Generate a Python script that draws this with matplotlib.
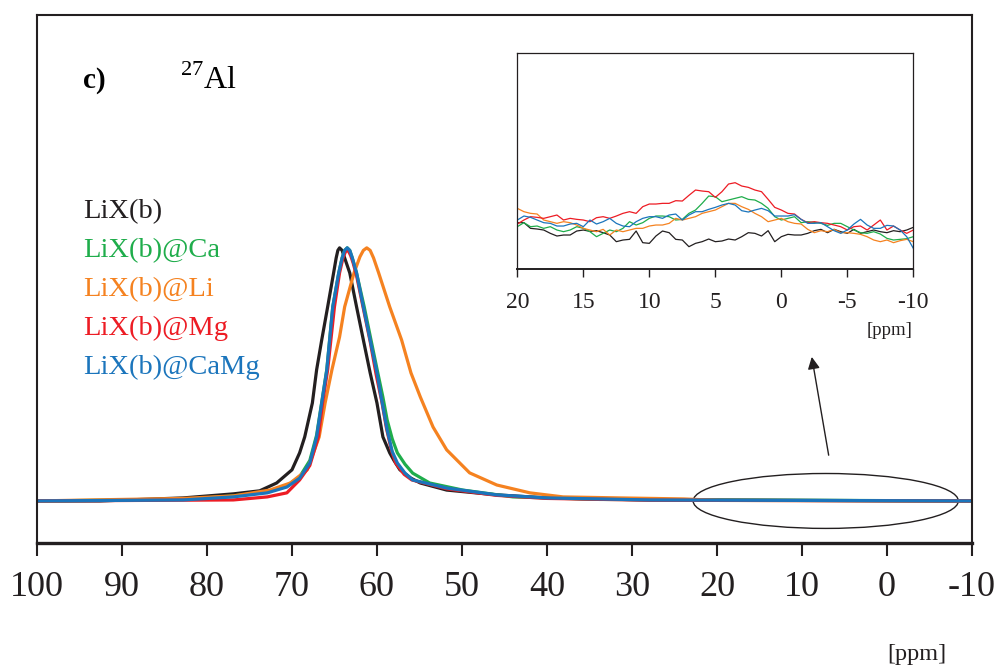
import matplotlib
matplotlib.use("Agg")
import matplotlib.pyplot as plt
from matplotlib.patches import Ellipse
import numpy as np

plt.rcParams['font.family'] = ['Liberation Serif', 'DejaVu Serif']
plt.rcParams['mathtext.fontset'] = 'custom'
plt.rcParams['mathtext.rm'] = 'Liberation Serif'

# ---------------- main spectra (ppm, normalised intensity) ----------------
names = ['LiX(b)', 'LiX(b)@Ca', 'LiX(b)@Li', 'LiX(b)@Mg', 'LiX(b)@CaMg']
colors = ['#231f20', '#1fad4b', '#f58220', '#ed1c24', '#1b75bc']

black_ppm = [100, 92.6, 82.8, 76.9, 73.8, 71.8, 70.0, 69.1, 68.5, 67.6, 67.1, 66.5, 65.8, 65.1, 64.8,
             64.6, 64.4, 64.1, 63.8, 63.2, 62.4, 61.6, 60.8, 60.0, 59.3, 58.5, 58.0, 57.3, 56.0, 54.9,
             51.8, 45.9, 40.0, 27.9, -10]
black_int = [0, 0, 0.012, 0.028, 0.040, 0.071, 0.123, 0.19, 0.253, 0.387, 0.518, 0.636, 0.767, 0.901, 0.96,
             0.99, 1.0, 0.99, 0.96, 0.901, 0.767, 0.636, 0.506, 0.387, 0.253, 0.19, 0.16, 0.123, 0.09, 0.071,
             0.043, 0.024, 0.012, 0.004, 0]

green_ppm = [100, 82.8, 76.9, 72.9, 70.6, 69.1, 67.9, 67.1, 66.5, 65.9, 65.2, 64.5, 64.1, 63.8, 63.5,
             63.2, 62.9, 62.4, 61.5, 60.7, 59.9, 59.3, 58.8, 58.2, 57.6, 56.7, 55.8, 53.8, 49.9, 44.0, 33.8, -10]
green_int = [0, 0.006, 0.02, 0.036, 0.06, 0.095, 0.16, 0.26, 0.39, 0.52, 0.767, 0.90, 0.96, 0.99, 1.0,
             0.99, 0.96, 0.90, 0.767, 0.636, 0.506, 0.41, 0.32, 0.245, 0.19, 0.145, 0.11, 0.071, 0.043, 0.016, 0.006, 0]

orange_ppm = [100, 91.9, 82.8, 76.9, 72.6, 70.2, 68.2, 66.8, 66.1, 65.3, 64.4, 63.8, 62.7, 62.0, 61.6,
              61.2, 60.8, 60.4, 59.8, 58.5, 57.1, 56.0, 54.9, 53.4, 51.8, 49.1, 45.9, 42.0, 38.1, 31.4,
              23.9, 19.6, -10]
orange_int = [0, 0.005, 0.01, 0.02, 0.043, 0.071, 0.123, 0.253, 0.387, 0.518, 0.648, 0.767, 0.901, 0.965, 0.99,
              1.0, 0.99, 0.96, 0.901, 0.767, 0.636, 0.506, 0.411, 0.292, 0.202, 0.111, 0.063, 0.032, 0.016, 0.012,
              0.008, 0.002, 0]

red_ppm = [100, 76.9, 72.9, 70.6, 69.1, 67.9, 66.9, 66.4, 65.8, 65.0, 64.4, 64.0, 63.7, 63.4, 63.1,
           62.8, 62.4, 61.6, 60.8, 60.1, 59.4, 58.9, 58.3, 57.8, 56.8, 55.9, 51.8, 45.9, 40.0, 27.9, -10]
red_int = [0, 0.004, 0.016, 0.032, 0.083, 0.14, 0.253, 0.387, 0.518, 0.767, 0.901, 0.96, 0.985, 0.99, 0.97,
           0.94, 0.89, 0.76, 0.63, 0.5, 0.387, 0.29, 0.2, 0.15, 0.105, 0.083, 0.048, 0.022, 0.01, 0.003, 0]

blue_ppm = [100, 82.8, 76.9, 72.9, 70.6, 69.1, 67.9, 67.1, 66.5, 65.9, 65.2, 64.5, 64.1, 63.8, 63.5,
            63.2, 62.9, 62.4, 61.6, 60.8, 60.0, 59.5, 58.8, 58.2, 57.6, 56.7, 55.8, 51.8, 45.9, 40.0, 27.9, -10]
blue_int = [0, 0.004, 0.016, 0.032, 0.055, 0.09, 0.150, 0.253, 0.387, 0.518, 0.767, 0.901, 0.96, 0.99, 1.0,
            0.99, 0.96, 0.901, 0.767, 0.636, 0.506, 0.41, 0.28, 0.195, 0.15, 0.11, 0.083, 0.051, 0.024, 0.012, 0.004, 0]

main_ppm = [black_ppm, green_ppm, orange_ppm, red_ppm, blue_ppm]
main_int = [black_int, green_int, orange_int, red_int, blue_int]

# ---------------- inset: 20 .. -10 ppm, step 0.5 (arbitrary units) ----------------
inset_ppm = np.arange(20, -10.01, -0.5)
inset_black = [140, 140, 123, 121, 118, 108, 100, 103, 103, 115, 118, 114, 116, 110, 103, 83, 88, 90, 115, 80,
               78, 100, 115, 110, 90, 88, 68, 78, 83, 91, 83, 85, 91, 88, 98, 110, 108, 100, 116, 83,
               98, 105, 103, 103, 108, 116, 120, 110, 120, 113, 108, 120, 108, 113, 118, 113, 110, 116, 113, 118, 126]
inset_red = [136, 148, 158, 156, 153, 158, 163, 148, 153, 150, 148, 143, 155, 158, 153, 160, 168, 173, 168, 188,
             196, 196, 198, 198, 206, 205, 222, 238, 235, 233, 216, 233, 256, 260, 250, 246, 238, 233, 210, 186,
             178, 168, 166, 150, 140, 143, 140, 138, 133, 128, 118, 128, 130, 118, 133, 148, 118, 130, 118, 108, 118]
inset_green = [128, 140, 128, 130, 123, 128, 118, 113, 118, 128, 123, 113, 98, 108, 118, 113, 123, 143, 133, 140,
               153, 160, 160, 158, 148, 150, 168, 178, 198, 220, 218, 203, 208, 213, 218, 210, 208, 198, 183, 158,
               148, 153, 158, 140, 143, 141, 138, 132, 138, 138, 128, 118, 110, 108, 113, 106, 93, 88, 90, 92, 98]
inset_orange = [183, 173, 168, 166, 148, 143, 138, 143, 140, 133, 123, 118, 113, 120, 103, 118, 113, 118, 123, 123,
                130, 133, 133, 138, 153, 148, 153, 158, 168, 173, 178, 188, 198, 198, 188, 180, 168, 158, 143, 148,
                153, 143, 138, 136, 120, 110, 116, 113, 120, 110, 110, 108, 105, 98, 88, 83, 88, 80, 86, 90, 83]
inset_blue = [148, 160, 156, 148, 140, 138, 130, 130, 136, 138, 128, 148, 136, 143, 153, 138, 130, 128, 143, 153,
              158, 158, 153, 163, 166, 148, 163, 173, 173, 180, 186, 193, 198, 193, 176, 172, 178, 183, 176, 160,
              160, 160, 164, 150, 138, 138, 140, 128, 116, 108, 118, 136, 150, 133, 123, 123, 132, 130, 118, 98, 63]
inset_int = [inset_black, inset_green, inset_orange, inset_red, inset_blue]

main_ticks = [100, 90, 80, 70, 60, 50, 40, 30, 20, 10, 0, -10]
inset_ticks = [20, 15, 10, 5, 0, -5, -10]

fig = plt.figure(figsize=(10.02, 6.70), dpi=100)
ax = fig.add_axes([0.0369, 0.1896, 0.9331, 0.7880])

for p, y, c in zip(main_ppm, main_int, colors):
    ax.plot(p, y, color=c, lw=2.3, solid_joinstyle='round')

ax.set_xlim(100, -10)
ax.set_ylim(-0.166, 1.92)
ax.set_xticks(main_ticks)
ax.set_xticklabels([str(t) for t in main_ticks], fontsize=26)
ax.set_yticks([])
ax.tick_params(axis='x', direction='out', length=9, width=1.5, pad=11, colors='#231f20')
for s in ['left', 'right', 'top']:
    ax.spines[s].set_linewidth(1.5)
    ax.spines[s].set_color('#231f20')
ax.spines['bottom'].set_linewidth(2.4)
ax.spines['bottom'].set_color('#231f20')

ax.text(0.049, 0.876, 'c)', transform=ax.transAxes, fontsize=21, fontweight='bold', va='center')
ax.text(0.153, 0.876, r'$^{27}$Al', transform=ax.transAxes, fontsize=23, va='center')

for i, (n, c) in enumerate(zip(names, colors)):
    ax.text(0.049, 0.627 - i * 0.0735, n, color=c, transform=ax.transAxes, fontsize=20.5, va='center')

ax.add_patch(Ellipse((7.2, 0), 31.2, 0.217, fill=False, edgecolor='#231f20', lw=1.0))
ax.annotate('', xy=(8.9, 0.58), xytext=(6.8, 0.17),
            arrowprops=dict(arrowstyle='-|>', color='#231f20', lw=1.0, mutation_scale=18))

fig.text(0.915, 0.0224, '[ppm]', fontsize=17.5, ha='center', va='center', color='#231f20')

# ---------------- inset ----------------
ins = fig.add_axes([0.5163, 0.598, 0.3952, 0.3233])
for y, c in zip(inset_int, colors):
    ins.plot(inset_ppm, y, color=c, lw=0.9)
ins.set_xlim(20, -10)
ins.set_ylim(0, 650)
ins.set_xticks(inset_ticks)
ins.set_xticklabels([str(t) for t in inset_ticks], fontsize=17)
ins.set_yticks([])
ins.tick_params(axis='x', direction='out', length=6, width=1.0, pad=10, colors='#231f20')
for s in ins.spines.values():
    s.set_linewidth(0.9)
    s.set_color('#231f20')
ins.spines['bottom'].set_linewidth(1.4)
fig.text(0.888, 0.507, '[ppm]', fontsize=13.5, ha='center', va='center', color='#231f20')

fig.savefig('out.png', dpi=100)
